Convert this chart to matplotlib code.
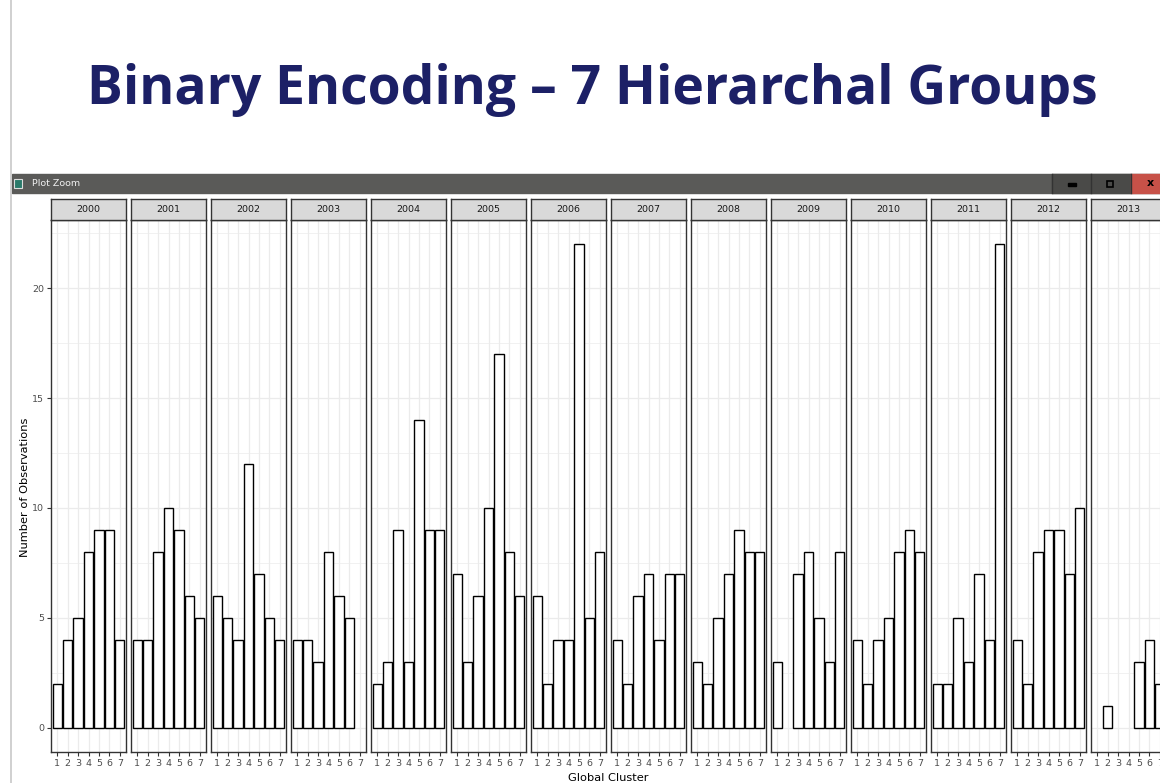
import matplotlib
matplotlib.use("Agg")
import matplotlib.pyplot as plt
from matplotlib.patches import Rectangle
import numpy as np

years = ["2000", "2001", "2002", "2003", "2004", "2005", "2006",
         "2007", "2008", "2009", "2010", "2011", "2012", "2013"]
clusters = ["1", "2", "3", "4", "5", "6", "7"]
counts = [
    [2, 4, 5, 8, 9, 9, 4],
    [4, 4, 8, 10, 9, 6, 5],
    [6, 5, 4, 12, 7, 5, 4],
    [4, 4, 3, 8, 6, 5, 0],
    [2, 3, 9, 3, 14, 9, 9],
    [7, 3, 6, 10, 17, 8, 6],
    [6, 2, 4, 4, 22, 5, 8],
    [4, 2, 6, 7, 4, 7, 7],
    [3, 2, 5, 7, 9, 8, 8],
    [3, 0, 7, 8, 5, 3, 8],
    [4, 2, 4, 5, 8, 9, 8],
    [2, 2, 5, 3, 7, 4, 22],
    [4, 2, 8, 9, 9, 7, 10],
    [0, 1, 0, 0, 3, 4, 2],
]
yticks = [0, 5, 10, 15, 20]
title = "Binary Encoding \u2013 7 Hierarchal Groups"
ylabel = "Number of Observations"
xlabel = "Global Cluster"

W, H = 1160, 783
fig = plt.figure(figsize=(W / 100, H / 100), dpi=100)
fig.patch.set_facecolor("white")

def fx(px):
    return px / W

def fy(py):
    return 1 - py / H

# slide left line
fig.add_artist(plt.Line2D([fx(11), fx(11)], [0, 1], color="#c8c8c8", lw=1.2))

# slide title
fig.text(fx(592), fy(90), title, ha="center", va="center", fontsize=38.5,
         fontweight="bold", color="#1c2066", family="Open Sans")

# window title bar
fig.add_artist(Rectangle((fx(12), fy(193)), fx(1148), fy(174) - fy(193),
                         transform=fig.transFigure, color="#5a5a58", zorder=1))
fig.add_artist(Rectangle((fx(1052), fy(193)), fx(79), fy(174) - fy(193),
                         transform=fig.transFigure, color="#4a4a48", zorder=2))
fig.add_artist(Rectangle((fx(1131), fy(193)), fx(29), fy(174) - fy(193),
                         transform=fig.transFigure, color="#c75148", zorder=2))
for xs in (1052, 1091, 1131):
    fig.add_artist(plt.Line2D([fx(xs), fx(xs)], [fy(193), fy(174)], color="#333333", lw=1, zorder=3))
fig.add_artist(Rectangle((fx(14), fy(188)), fx(8), fy(179) - fy(188),
                         transform=fig.transFigure, facecolor="#2a7a6a", edgecolor="#dddddd", lw=0.8, zorder=3))
fig.text(fx(32), fy(183.5), "Plot Zoom", ha="left", va="center", fontsize=6.8,
         color="#f0f0f0", family="DejaVu Sans", zorder=4)
fig.add_artist(Rectangle((fx(1068), fy(185.5)), fx(8), fy(183) - fy(185.5),
                         transform=fig.transFigure, color="black", zorder=4))
fig.add_artist(Rectangle((fx(1107), fy(187)), fx(6), fy(181) - fy(187),
                         transform=fig.transFigure, facecolor="none", edgecolor="black", lw=1.2, zorder=4))
fig.text(fx(1150), fy(183.5), "x", ha="center", va="center", fontsize=8, fontweight="bold",
         color="black", zorder=4)

ymin, ymax = -1.1, 23.1
panel_top, panel_bot = 220, 752
strip_top = 199
x0, pw, gap = 51, 75, 5
xpos = np.arange(1, len(clusters) + 1)
tick_color = "#4d4d4d"

for i, (yr, vals) in enumerate(zip(years, counts)):
    left = x0 + i * (pw + gap)
    ax = fig.add_axes([fx(left), fy(panel_bot), pw / W, (panel_bot - panel_top) / H])
    ax.set_xlim(0.4, 7.6)
    ax.set_ylim(ymin, ymax)
    ax.set_facecolor("white")
    # grid
    for y in np.arange(0, 22.6, 2.5):
        lw = 0.9 if y % 5 == 0 else 0.5
        ax.axhline(y, color="#ebebeb", lw=lw, zorder=0)
    for x in xpos:
        ax.axvline(x, color="#ebebeb", lw=0.9, zorder=0)
    v = np.array(vals)
    keep = v > 0
    ax.bar(xpos[keep], v[keep], width=0.9, facecolor="white", edgecolor="black",
           linewidth=1.0, zorder=2)
    for s in ax.spines.values():
        s.set_color("#333333")
        s.set_linewidth(1.0)
    ax.set_xticks(xpos)
    ax.set_xticklabels(clusters, fontsize=6.8, color=tick_color)
    ax.tick_params(axis="x", length=3, width=0.8, color="#333333", pad=2)
    if i == 0:
        ax.set_yticks(yticks)
        ax.set_yticklabels([str(t) for t in yticks], fontsize=6.8, color=tick_color)
        ax.tick_params(axis="y", length=3, width=0.8, color="#333333", pad=2)
    else:
        ax.set_yticks([])
    # strip
    sax = fig.add_axes([fx(left), fy(panel_top), pw / W, (panel_top - strip_top) / H])
    sax.set_facecolor("#d9d9d9")
    sax.set_xticks([])
    sax.set_yticks([])
    for s in sax.spines.values():
        s.set_color("#333333")
        s.set_linewidth(1.0)
    sax.text(0.5, 0.5, yr, ha="center", va="center", fontsize=6.8, color="#1a1a1a",
             transform=sax.transAxes)

fig.text(fx(25), fy(487), ylabel, rotation=90, ha="center", va="center", fontsize=8.2, color="black")
fig.text(fx(608), fy(778), xlabel, ha="center", va="center", fontsize=8.2, color="black")

fig.savefig("out.png", dpi=100)
